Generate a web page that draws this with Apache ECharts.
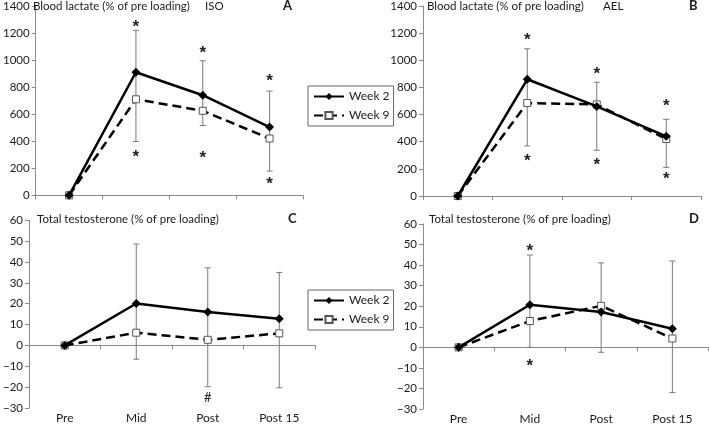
<!DOCTYPE html>
<html><head><meta charset="utf-8">
<script src="https://cdn.jsdelivr.net/npm/echarts@6/dist/echarts.min.js"></script>
<style>html,body{margin:0;padding:0;background:#fff}#c{width:709px;height:425px}</style>
</head><body><div id="c"></div><script>
const categories = ['Pre', 'Mid', 'Post', 'Post 15'];
const seriesNames = ['Week 2', 'Week 9'];

// Panel A: Blood lactate, ISO
const isoLactateWeek2 = [0, 910, 740, 505];
const isoLactateWeek9 = [0, 710, 625, 420];
const isoLactateErr = [[1, 398, 1220], [2, 516, 995], [3, 179, 771]];
const isoLactateMarks = [[1, 1273, '*'], [1, 310, '*'], [2, 1076, '*'], [2, 305, '*'], [3, 875, '*'], [3, 113, '*']];

// Panel B: Blood lactate, AEL
const aelLactateWeek2 = [0, 860, 660, 440];
const aelLactateWeek9 = [0, 685, 675, 420];
const aelLactateErr = [[1, 369, 1085], [2, 337, 838], [3, 211, 565]];
const aelLactateMarks = [[1, 1179, '*'], [1, 285, '*'], [2, 924, '*'], [2, 253, '*'], [3, 688, '*'], [3, 155, '*']];

// Panel C: Total testosterone, ISO
const isoTestoWeek2 = [0, 20.1, 16.0, 12.8];
const isoTestoWeek9 = [0, 6.1, 2.7, 5.8];
const isoTestoErr = [[1, -6.6, 48.6], [2, -19.8, 37.2], [3, -20.3, 35.0]];
const isoTestoMarks = [[2, -25.1, '#']];

// Panel D: Total testosterone, AEL
const aelTestoWeek2 = [0, 20.7, 17.2, 9.0];
const aelTestoWeek9 = [0, 12.8, 20.2, 4.3];
const aelTestoErr = [[1, 0.0, 44.9], [2, -2.4, 41.1], [3, -22.0, 42.0]];
const aelTestoMarks = [[1, 48.5, '*'], [1, -7.2, '*']];

const lactateAxis = { min: 0, max: 1400, interval: 200 };
const testoAxis = { min: -30, max: 60, interval: 10 };

const FONT = 'Lato';
const AXIS_COLOR = '#8a8a8a';
const TEXT_COLOR = '#1a1a1a';

const chart = echarts.init(document.getElementById('c'), null, { renderer: 'canvas' });

const grids = [
  { left: 29, top: 5.3, width: 274, height: 190 },
  { left: 423, top: 6, width: 278, height: 190 },
  { left: 29, top: 220.3, width: 286, height: 187.7 },
  { left: 423, top: 224, width: 285, height: 187 }
];

const xAxes = [];
const yAxes = [];
[0, 1, 2, 3].forEach(i => {
  const bottomPanel = i >= 2;
  xAxes.push({
    type: 'category', gridIndex: i, data: categories, position: 'bottom', boundaryGap: true,
    axisLine: { onZero: bottomPanel, lineStyle: { color: AXIS_COLOR, width: 1 } },
    axisTick: { show: true, length: 4, lineStyle: { color: AXIS_COLOR } },
    axisLabel: { show: false }, splitLine: { show: false }
  });
  const ax = bottomPanel ? testoAxis : lactateAxis;
  yAxes.push({
    type: 'value', gridIndex: i, min: ax.min, max: ax.max, interval: ax.interval,
    axisLine: { show: true, lineStyle: { color: AXIS_COLOR, width: 1 } },
    axisTick: { show: true, length: 4, lineStyle: { color: AXIS_COLOR } },
    axisLabel: { fontFamily: FONT, fontSize: 11.5, color: TEXT_COLOR, margin: 6,
      formatter: v => (v < 0 ? '\u2212' + Math.abs(v) : String(v)) },
    splitLine: { show: false }
  });
});
// label-only category axes at the bottom of panels C and D
[2, 3].forEach(i => {
  xAxes.push({
    type: 'category', gridIndex: i, data: categories, position: 'bottom', boundaryGap: true,
    axisLine: { show: false, onZero: false }, axisTick: { show: false },
    axisLabel: { show: true, fontFamily: FONT, fontSize: 12, color: TEXT_COLOR, margin: 4 },
    splitLine: { show: false }
  });
});

function errSeries(i, data) {
  return {
    type: 'custom', xAxisIndex: i, yAxisIndex: i, z: 1, silent: true,
    data: data, encode: { x: 0, y: [1, 2] },
    renderItem: function (params, api) {
      const x = api.value(0);
      const lo = api.coord([x, api.value(1)]);
      const hi = api.coord([x, api.value(2)]);
      const w = 3;
      const st = { stroke: '#7a7a7a', lineWidth: 1 };
      return { type: 'group', children: [
        { type: 'line', shape: { x1: lo[0], y1: lo[1], x2: hi[0], y2: hi[1] }, style: st },
        { type: 'line', shape: { x1: lo[0] - w, y1: lo[1], x2: lo[0] + w, y2: lo[1] }, style: st },
        { type: 'line', shape: { x1: hi[0] - w, y1: hi[1], x2: hi[0] + w, y2: hi[1] }, style: st }
      ] };
    }
  };
}
function markSeries(i, marks) {
  return {
    type: 'custom', xAxisIndex: i, yAxisIndex: i, z: 5, silent: true,
    data: marks.map(m => [m[0], m[1]]), encode: { x: 0, y: 1 },
    renderItem: function (params, api) {
      const p = api.coord([api.value(0), api.value(1)]);
      const t = marks[params.dataIndex][2];
      const isStar = t === '*';
      return { type: 'text', x: p[0], y: p[1] + (isStar ? 4 : 0), style: {
        text: t, fill: '#222', align: 'center', verticalAlign: 'middle',
        font: (isStar ? 'bold 17px "Liberation Sans"' : '13px ' + FONT)
      } };
    }
  };
}
function lineSeries(i, name, data) {
  const w2 = name === 'Week 2';
  return {
    type: 'line', name: name, xAxisIndex: i, yAxisIndex: i, data: data, z: w2 ? 4 : 3,
    symbol: w2 ? 'diamond' : 'rect', symbolSize: w2 ? 9 : 7, showAllSymbol: true,
    lineStyle: { color: '#000', width: 2.5, type: w2 ? 'solid' : [9, 5] },
    itemStyle: w2 ? { color: '#000', borderColor: '#000', borderWidth: 0 }
                  : { color: '#fff', borderColor: '#555', borderWidth: 1 },
    emphasis: { disabled: true }, animation: false
  };
}

const series = [
  errSeries(0, isoLactateErr), errSeries(1, aelLactateErr), errSeries(2, isoTestoErr), errSeries(3, aelTestoErr),
  lineSeries(0, 'Week 2', isoLactateWeek2), lineSeries(0, 'Week 9', isoLactateWeek9),
  lineSeries(1, 'Week 2', aelLactateWeek2), lineSeries(1, 'Week 9', aelLactateWeek9),
  lineSeries(2, 'Week 2', isoTestoWeek2), lineSeries(2, 'Week 9', isoTestoWeek9),
  lineSeries(3, 'Week 2', aelTestoWeek2), lineSeries(3, 'Week 9', aelTestoWeek9),
  markSeries(0, isoLactateMarks), markSeries(1, aelLactateMarks), markSeries(2, isoTestoMarks), markSeries(3, aelTestoMarks)
];

function legendAt(left, top) {
  return {
    data: seriesNames, orient: 'vertical', left: left, top: top, padding: [4, 4, 4, 5],
    itemWidth: 30, itemHeight: 9, itemGap: 6, borderColor: '#666', borderWidth: 1,
    textStyle: { fontFamily: FONT, fontSize: 12, color: TEXT_COLOR, lineHeight: 13 }, selectedMode: false
  };
}

function t(text, left, top, bold) {
  return { text: text, left: left, top: top, padding: 0,
    textStyle: { fontFamily: FONT, fontSize: bold ? 13 : 11.5, fontWeight: bold ? 'bold' : 'normal', color: TEXT_COLOR } };
}

chart.setOption({
  animation: false,
  backgroundColor: '#fff',
  title: [
    t('Blood lactate (% of pre loading)', 33, 0), t('ISO', 205, 0), t('A', 283, -1, true),
    t('Blood lactate (% of pre loading)', 427, 0), t('AEL', 603, 0), t('B', 689, -1, true),
    t('Total testosterone (% of pre loading)', 37, 213), t('C', 288, 212, true),
    t('Total testosterone (% of pre loading)', 429, 213), t('D', 689, 212, true)
  ],
  legend: [legendAt(308, 86), legendAt(308, 290)],
  grid: grids,
  xAxis: xAxes,
  yAxis: yAxes,
  series: series
});
</script></body></html>
